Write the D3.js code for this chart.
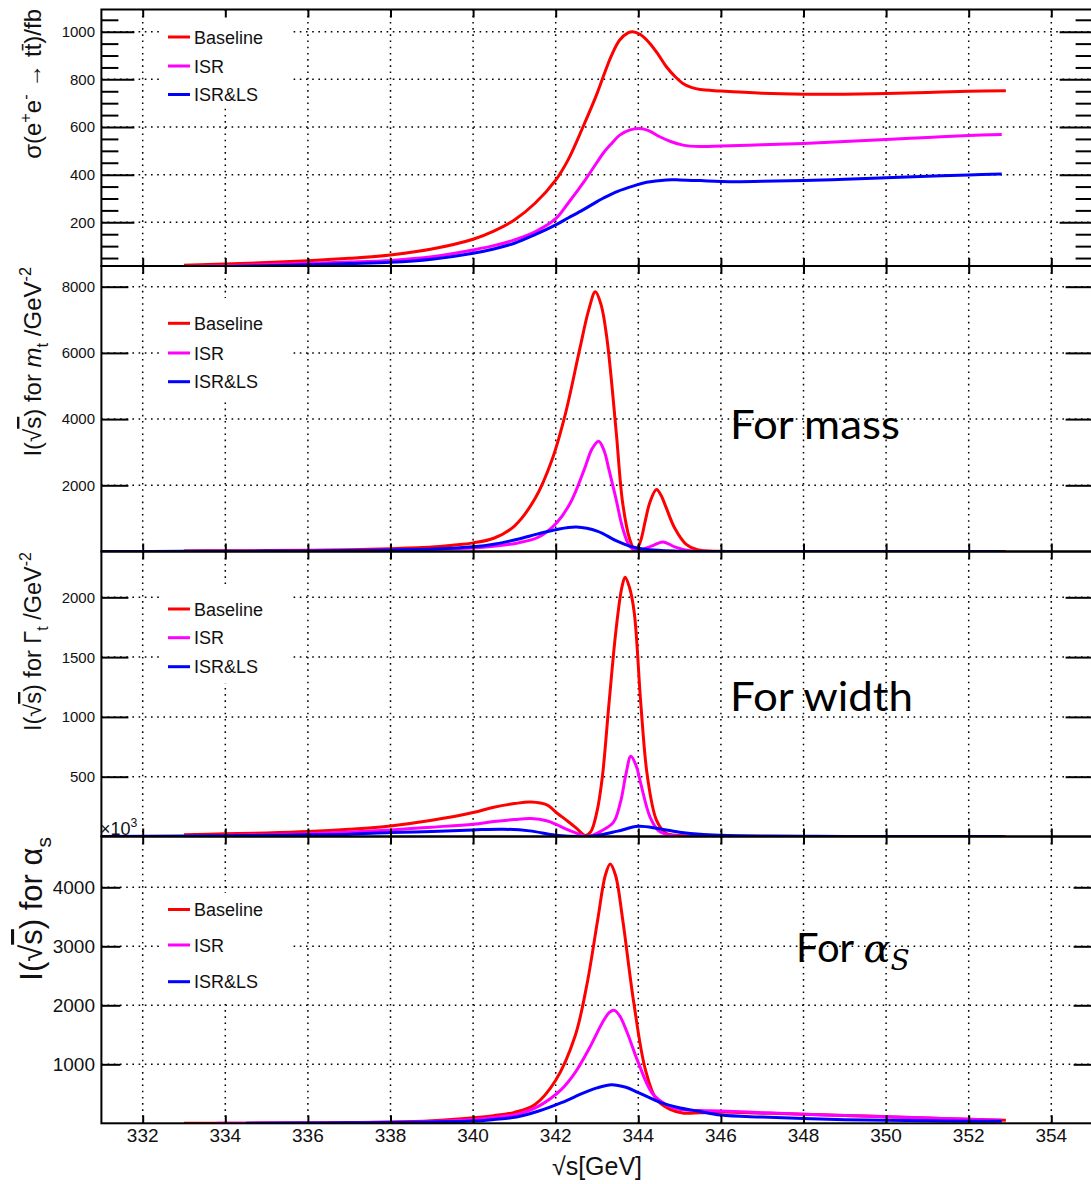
<!DOCTYPE html>
<html>
<head>
<meta charset="utf-8">
<script src="https://cdn.jsdelivr.net/npm/d3@7"></script>
<style>
    body{margin:0;background:#fff;}
    svg text{font-family:"Liberation Sans",Arial,sans-serif;fill:#111;}
</style>
</head>
<body>
<div id="graphWrapper"></div>
<script>
//data
const xTicks = [332,334,336,338,340,342,344,346,348,350,352,354];
const seriesNames = ['Baseline','ISR','ISR&LS'];
const seriesColors = ['#ff0000','#ff00ff','#0000ff'];

const sigmaTicks = [200,400,600,800,1000];
const massTicks = [2000,4000,6000,8000];
const widthTicks = [500,1000,1500,2000];
const alphaTicks = [1000,2000,3000,4000];

//cross section [sqrt(s), sigma]
const sigmaBaseline = [[333,20],[334,25],[335,31],[336,39],[337,49],[338,63],[339,88],[340,129],[340.5,163],[341,210],[341.5,280],[342,377],[342.3,462],[342.66,600],[343,740],[343.15,811],[343.35,900],[343.55,965],[343.75,995],[343.87,1000],[344.05,988],[344.28,951],[344.5,900],[344.68,853],[344.9,810],[345.08,783],[345.3,765],[345.5,757],[346,751],[347,742],[348,738],[349,738],[350,741],[351,745],[352,750],[352.9,752]];
const sigmaISR = [[333,15],[334,18],[335,23],[336,28],[337,33],[338,40],[339,55],[340,84],[340.5,102],[341,126],[341.5,160],[342,215],[342.3,280],[342.66,364],[343,452],[343.15,490],[343.35,530],[343.55,566],[343.8,588],[344.04,594],[344.25,585],[344.52,559],[344.8,538],[345.08,524],[345.5,518],[346,520],[347,525],[348,531],[349,539],[350,548],[351,556],[352,564],[352.8,569]];
const sigmaLS = [[333,12],[334,15],[335,18],[336,22],[337,27],[338,32],[339,45],[340,70],[340.5,88],[341,112],[341.5,148],[342,189],[342.3,218],[342.66,252],[343,287],[343.15,301],[343.5,330],[343.87,352],[344.2,368],[344.68,378],[345,378],[345.5,375],[346,371],[347,372],[348,375],[349,381],[350,387],[351,393],[352,399],[352.8,403]];

//sensitivity for the mass
const massBaseline = [[333,18],[334,22],[335,28],[336,36],[337,52],[338,85],[339,135],[339.5,190],[340,260],[340.5,400],[341,770],[341.5,1600],[341.92,2805],[342.25,4236],[342.58,6106],[342.8,7300],[342.96,7850],[343.1,7450],[343.24,6436],[343.46,3684],[343.62,1482],[343.79,382],[343.93,20],[344.05,300],[344.17,932],[344.28,1482],[344.44,1870],[344.55,1700],[344.66,1373],[344.88,712],[345.16,217],[345.43,52],[346,5],[348,0],[352.9,0]];
const massISR = [[333,8],[334,10],[335,13],[336,18],[337,28],[338,45],[339,70],[340,107],[340.5,160],[341.05,250],[341.59,437],[342.03,877],[342.36,1482],[342.69,2472],[342.88,3100],[343.04,3330],[343.17,3050],[343.29,2472],[343.46,1592],[343.62,712],[343.79,162],[343.95,20],[344.1,60],[344.33,170],[344.6,290],[344.88,140],[345.21,30],[345.6,5],[346,0],[352.8,0]];
const massLS = [[331,0],[333,5],[335,12],[336,18],[337,28],[338,45],[339.07,74],[340,140],[340.5,217],[341.05,360],[341.59,540],[342,660],[342.5,740],[343.02,610],[343.46,327],[343.79,162],[344.11,74],[344.55,30],[345,10],[346,0],[352.8,0]];

//sensitivity for the width
const widthBaseline = [[333,15],[334,22],[335,30],[336,42],[337,61],[338,88],[339,135],[340,200],[340.5,245],[341,275],[341.4,288],[341.8,262],[342,205],[342.3,125],[342.5,70],[342.72,8],[342.85,40],[343,210],[343.13,500],[343.29,1110],[343.46,1725],[343.6,2080],[343.68,2167],[343.78,2090],[343.9,1877],[344.06,1114],[344.22,503],[344.44,137],[344.66,30],[345,8],[346,2],[347,0],[352.9,0]];
const widthISR = [[333,6],[334,10],[335,15],[336,22],[337,38],[338,55],[339,78],[340,103],[340.5,125],[341,142],[341.4,150],[341.8,130],[342,103],[342.3,55],[342.5,28],[342.72,2],[342.9,12],[343.1,45],[343.4,120],[343.57,289],[343.7,520],[343.82,671],[343.95,590],[344.06,442],[344.28,167],[344.5,45],[344.8,10],[345.5,2],[346.5,0],[352.8,0]];
const widthLS = [[331,0],[333,5],[334,7],[335,10],[336,14],[337,19],[338,33],[339,42],[340,55],[340.73,61],[341.37,47],[342,11],[342.66,0],[343,8],[343.5,45],[344,85],[344.5,65],[345.05,33],[345.5,18],[346,11],[347,5],[348,2],[349,0],[352.8,0]];

//sensitivity for alpha_s
const alphaBaseline = [[333,0],[334,2],[335,4],[336,7],[337,12],[338,21],[339,45],[340,95],[340.5,130],[341,185],[341.5,320],[342,730],[342.47,1480],[342.75,2330],[343.02,3462],[343.2,4200],[343.32,4396],[343.45,4200],[343.62,3462],[343.89,2047],[344.17,915],[344.44,405],[344.77,236],[345.1,172],[345.5,180],[346,190],[347,172],[348,153],[349,132],[350,112],[351,90],[352,68],[352.9,50]];
const alphaISR = [[333.8,0],[335,3],[336,5],[337,9],[338,16],[339,32],[340,66],[340.5,100],[341.05,151],[341.59,292],[342.14,575],[342.47,858],[342.8,1254],[343.13,1706],[343.3,1880],[343.42,1914],[343.55,1820],[343.73,1538],[344,1028],[344.33,518],[344.66,320],[344.99,236],[345.5,215],[346,208],[347,180],[348,152],[349,131],[350,111],[351,89],[352,67],[352.8,50]];
const alphaLS = [[334.5,0],[335,2],[336,4],[337,8],[338,14],[339,22],[340,38],[340.5,65],[341.05,106],[341.59,208],[342.14,350],[342.69,520],[343,600],[343.35,655],[343.7,610],[344,520],[344.55,350],[344.99,265],[345.43,208],[346,140],[347,105],[348,80],[349,62],[350,50],[351,42],[352,36],[352.8,33]];

const CONSTANTS = {
    WIDTH:1091,
    HEIGHT:1184,
    LEFT:101.4,      //left frame of every panel
    RIGHT:1092.6,    //right frame, just past the edge of the picture
    X_DOMAIN:[331,355],
    GRID_DASH:'1.6,4.6'
};

//one entry per pad, top to bottom
const PANELS = [
    {top:9.5, bottom:266, domain:[16.6,1093.2], ticks:sigmaTicks, minor:50, tickLen:33, minorLen:17, tickFont:15,
     series:[sigmaBaseline,sigmaISR,sigmaLS], legendBox:[14,108], legendY:[37,66,94.5], titleEnd:9, titleFont:24,
     title:[{t:'σ(e'},{t:'+',sup:1},{t:'e'},{t:'-',sup:1},{t:' → tt̄)/fb'}]},
    {top:266, bottom:551.5, domain:[0,8625], ticks:massTicks, minor:0, tickLen:27, tickFont:15,
     series:[massBaseline,massISR,massLS], legendBox:[298,398], legendY:[323.3,353,381.7], titleEnd:267, titleFont:24,
     title:[{t:'I('},{t:'√'},{t:'s',over:1},{t:') for '},{t:'m',it:1},{t:'t',sub:1},{t:' /GeV'},{t:'-2',sup:1}]},
    {top:551.5, bottom:836.5, domain:[0,2383], ticks:widthTicks, minor:0, tickLen:27, tickFont:15,
     series:[widthBaseline,widthISR,widthLS], legendBox:[584,683], legendY:[609,637.7,666.7], titleEnd:552, titleFont:23.5,
     title:[{t:'I('},{t:'√'},{t:'s',over:1},{t:') for Γ'},{t:'t',sub:1},{t:' /GeV'},{t:'-2',sup:1}]},
    {top:836.5, bottom:1123.3, domain:[0,4861], ticks:alphaTicks, minor:0, tickLen:19, tickFont:19,
     series:[alphaBaseline,alphaISR,alphaLS], legendBox:[893,1001], legendY:[909.5,945,981.7], titleEnd:837, titleFont:31,
     title:[{t:'I('},{t:'√'},{t:'s',over:1},{t:') for α'},{t:'s',sub:1}]}
];

function main(){
    let svg = d3.select('#graphWrapper')
        .append('svg')
        .attr('width',CONSTANTS.WIDTH)
        .attr('height',CONSTANTS.HEIGHT);

    let xScale = d3.scaleLinear()
        .domain(CONSTANTS.X_DOMAIN)
        .range([CONSTANTS.LEFT,CONSTANTS.RIGHT]);

    PANELS.forEach((p,i)=>buildPanel(svg,xScale,p,i));

    buildXLabels(svg,xScale);
    buildNotes(svg);
}

//draws one pad: grid, legend, curves, frame and axes
function buildPanel(svg,xScale,p,idx){
    let yScale = d3.scaleLinear().domain(p.domain).range([p.bottom,p.top]);
    let g = svg.append('g').attr('class','panel');

    //clip the curves to the frame
    svg.append('clipPath').attr('id','clip'+idx)
        .append('rect')
        .attr('x',CONSTANTS.LEFT).attr('y',p.top)
        .attr('width',CONSTANTS.RIGHT-CONSTANTS.LEFT).attr('height',p.bottom-p.top);

    //dotted grid
    g.selectAll('.vgrid').data(xTicks).enter().append('line')
        .attr('x1',d=>xScale(d)).attr('x2',d=>xScale(d))
        .attr('y1',p.top).attr('y2',p.bottom)
        .attr('stroke','#000').attr('stroke-width',1.5)
        .attr('stroke-dasharray',CONSTANTS.GRID_DASH);
    g.selectAll('.hgrid').data(p.ticks).enter().append('line')
        .attr('x1',CONSTANTS.LEFT).attr('x2',CONSTANTS.RIGHT)
        .attr('y1',d=>yScale(d)).attr('y2',d=>yScale(d))
        .attr('stroke','#000').attr('stroke-width',1.5)
        .attr('stroke-dasharray',CONSTANTS.GRID_DASH);

    //legend background hides the grid
    g.append('rect')
        .attr('x',163).attr('y',p.legendBox[0])
        .attr('width',127).attr('height',p.legendBox[1]-p.legendBox[0])
        .attr('fill','#fff');

    //curves
    let line = d3.line()
        .x(d=>xScale(d[0]))
        .y(d=>yScale(d[1]))
        .curve(d3.curveCatmullRom.alpha(0.5));
    g.append('g').attr('clip-path','url(#clip'+idx+')')
        .selectAll('path').data(p.series).enter().append('path')
        .attr('d',line)
        .attr('fill','none')
        .attr('stroke',(d,i)=>seriesColors[i])
        .attr('stroke-width',3)
        .attr('stroke-linejoin','round');

    //legend entries
    seriesNames.forEach((name,i)=>{
        g.append('line')
            .attr('x1',168).attr('x2',190)
            .attr('y1',p.legendY[i]).attr('y2',p.legendY[i])
            .attr('stroke',seriesColors[i]).attr('stroke-width',3);
        g.append('text')
            .attr('x',194).attr('y',p.legendY[i]+6.5)
            .style('font-size','18px')
            .text(name);
    });

    //frame
    g.append('rect')
        .attr('x',CONSTANTS.LEFT).attr('y',p.top)
        .attr('width',CONSTANTS.RIGHT-CONSTANTS.LEFT).attr('height',p.bottom-p.top)
        .attr('fill','none').attr('stroke','#000').attr('stroke-width',2);

    //y axis on the left, mirrored ticks on the right
    let leftAxis = d3.axisRight(yScale).tickValues(p.ticks).tickSize(p.tickLen).tickFormat('');
    let rightAxis = d3.axisLeft(yScale).tickValues(p.ticks).tickSize(p.tickLen).tickFormat('');
    g.append('g').attr('transform','translate('+CONSTANTS.LEFT+',0)').call(leftAxis).call(cleanAxis);
    g.append('g').attr('transform','translate('+CONSTANTS.RIGHT+',0)').call(rightAxis).call(cleanAxis);

    if(p.minor){
        let minorTicks = d3.range(p.minor,p.domain[1],p.minor).filter(v=>v>p.domain[0] && p.ticks.indexOf(v)<0);
        g.append('g').attr('transform','translate('+CONSTANTS.LEFT+',0)')
            .call(d3.axisRight(yScale).tickValues(minorTicks).tickSize(p.minorLen).tickFormat('')).call(cleanAxis);
        g.append('g').attr('transform','translate('+CONSTANTS.RIGHT+',0)')
            .call(d3.axisLeft(yScale).tickValues(minorTicks).tickSize(p.minorLen).tickFormat('')).call(cleanAxis);
    }

    //tick labels
    g.selectAll('.ylab').data(p.ticks).enter().append('text')
        .attr('x',95).attr('y',d=>yScale(d)+p.tickFont*0.36)
        .attr('text-anchor','end')
        .style('font-size',p.tickFont+'px')
        .text(d=>d);

    //x ticks at top and bottom of the pad
    g.append('g').attr('transform','translate(0,'+p.bottom+')')
        .call(d3.axisTop(xScale).tickValues(xTicks).tickSize(8).tickFormat('')).call(cleanAxis);
    g.append('g').attr('transform','translate(0,'+p.top+')')
        .call(d3.axisBottom(xScale).tickValues(xTicks).tickSize(8).tickFormat('')).call(cleanAxis);

    //axis title, rotated and pushed to the top of the pad
    let title = g.append('text')
        .attr('transform','translate('+(p.titleFont>28 ? 42 : 41)+','+p.titleEnd+') rotate(-90)')
        .attr('text-anchor','end')
        .style('font-size',p.titleFont+'px');
    addSegments(title,p.title,p.titleFont);
}

//remove the domain path and style the tick lines
function cleanAxis(sel){
    sel.select('.domain').remove();
    sel.selectAll('.tick line').attr('stroke','#000').attr('stroke-width',2);
}

//writes text pieces with super / subscripts
function addSegments(textSel,segs,size){
    let shift = 0;
    segs.forEach(s=>{
        let want = s.sup ? -0.42*size : (s.sub ? 0.28*size : 0);
        textSel.append('tspan')
            .attr('dy',want-shift)
            .style('font-size',(s.sup||s.sub) ? (size*0.68)+'px' : size+'px')
            .style('font-style',s.it ? 'italic' : null)
            .style('text-decoration',s.over ? 'overline' : null)
            .text(s.t);
        shift = want;
    });
}

function buildXLabels(svg,xScale){
    svg.selectAll('.xlab').data(xTicks).enter().append('text')
        .attr('x',d=>xScale(d)).attr('y',1142)
        .attr('text-anchor','middle')
        .style('font-size','19px')
        .text(d=>d);

    svg.append('text')
        .attr('x',597).attr('y',1175)
        .attr('text-anchor','middle')
        .style('font-size','25px')
        .text('√s[GeV]');

    //exponent of the bottom pad
    let exp = svg.append('text').attr('x',100).attr('y',835).style('font-size','18px');
    addSegments(exp,[{t:'×10'},{t:'3',sup:1}],18);
}

//big annotations written on the pads
function buildNotes(svg){
    svg.append('text').attr('x',730).attr('y',439)
        .attr('textLength',170).attr('lengthAdjust','spacingAndGlyphs')
        .style('font-family','Lato, "Open Sans", sans-serif').style('font-size','40px').style('fill','#000')
        .text('For mass');
    svg.append('text').attr('x',730).attr('y',711)
        .attr('textLength',183).attr('lengthAdjust','spacingAndGlyphs')
        .style('font-family','Lato, "Open Sans", sans-serif').style('font-size','40px').style('fill','#000')
        .text('For width');

    let a = svg.append('text').attr('x',796).attr('y',962)
        .style('font-family','Lato, "Open Sans", sans-serif').style('font-size','40px').style('fill','#000');
    a.append('tspan').text('For ');
    a.append('tspan').style('font-family','"DejaVu Serif", serif').style('font-style','italic').style('font-size','40px').text('α');
    a.append('tspan').attr('dy',8).style('font-family','"DejaVu Serif", serif').style('font-style','italic').style('font-size','28px').text('S');
}

main();
</script>
</body>
</html>
